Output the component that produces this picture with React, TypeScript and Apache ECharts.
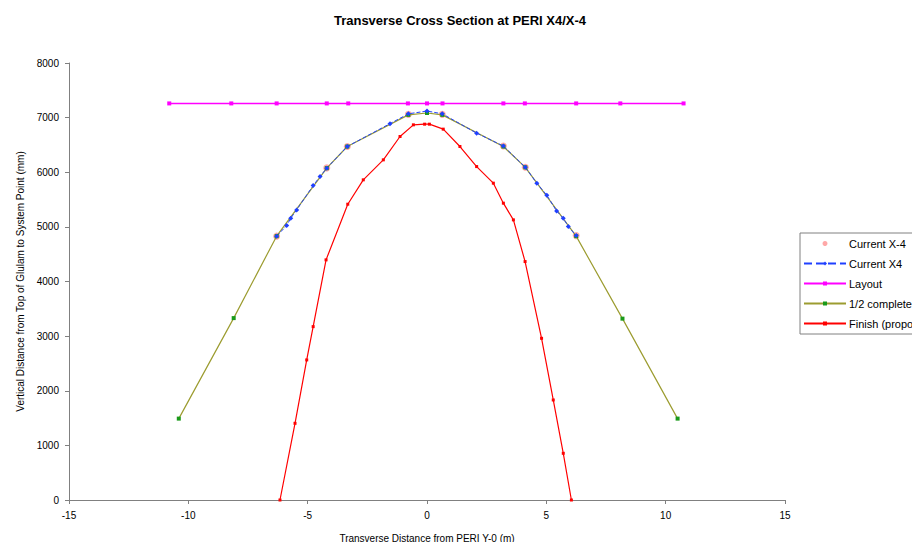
import React, { useEffect, useRef } from "react";
import * as echarts from "echarts";

const titleText = "Transverse Cross Section at PERI X4/X-4";
const xName = "Transverse Distance from PERI Y-0 (m)";
const yName = "Vertical Distance from Top of Glulam to System Point (mm)";

const currentXm4: [number, number][] = [
  [-6.3, 4830], [-4.2, 6080], [-3.34, 6471], [-0.78, 7060],
  [0.64, 7060], [3.2, 6480], [4.12, 6090], [6.25, 4840],
];

const currentX4: [number, number][] = [
  [-6.3, 4830], [-5.88, 5024], [-5.71, 5159], [-5.46, 5311], [-4.77, 5757],
  [-4.48, 5922], [-4.2, 6075], [-3.34, 6471], [-1.55, 6890], [-0.78, 7070],
  [0, 7120], [0.64, 7070], [2.08, 6716], [3.2, 6480], [4.12, 6090],
  [4.6, 5800], [5.02, 5580], [5.43, 5290], [5.71, 5159], [5.92, 5006], [6.25, 4840],
];

const layout: [number, number][] = [
  [-10.8, 7260], [-8.2, 7260], [-6.3, 7260], [-4.2, 7260], [-3.3, 7260],
  [-0.8, 7260], [0, 7260], [0.65, 7260], [3.2, 7260], [4.1, 7260],
  [6.25, 7260], [8.1, 7260], [10.75, 7260],
];

const halfComplete: [number, number][] = [
  [-10.4, 1490], [-8.1, 3330], [-6.3, 4830], [-4.2, 6075], [-3.34, 6471],
  [-0.78, 7050], [0, 7085], [0.64, 7050], [3.2, 6471], [4.12, 6090],
  [6.25, 4830], [8.19, 3320], [10.5, 1490],
];

const finish: [number, number][] = [
  [-6.16, 0], [-5.53, 1404], [-5.04, 2564], [-4.77, 3174], [-4.23, 4396],
  [-3.32, 5415], [-2.67, 5861], [-1.83, 6227], [-1.13, 6654], [-0.57, 6868],
  [-0.1, 6880], [0.1, 6880], [0.68, 6789], [1.38, 6471], [2.08, 6104],
  [2.78, 5800], [3.2, 5434], [3.62, 5128], [4.11, 4365], [4.8, 2960],
  [5.29, 1831], [5.71, 855], [6.05, 0],
];

const FONT = "Liberation Sans, Arial, sans-serif";

export default function App() {
  const ref = useRef<HTMLDivElement>(null);
  useEffect(() => {
    if (!ref.current) return;
    const chart = echarts.init(ref.current, null, { renderer: "svg" });
    const axisLine = { show: true, onZero: false, lineStyle: { color: "#808080", width: 1 } };
    const axisLabel = {
      fontFamily: FONT,
      fontSize: 10,
      color: "#000",
      margin: 10,
      formatter: (v: number) => String(v),
    };
    chart.setOption({
      animation: false,
      backgroundColor: "#ffffff",
      title: {
        text: titleText,
        left: "center",
        top: 9,
        textStyle: { fontFamily: FONT, fontSize: 13, fontWeight: "bold", color: "#000" },
      },
      grid: { left: 69, right: 135, top: 63, bottom: 50, containLabel: false },
      legend: {
        orient: "vertical",
        left: 800,
        top: 233,
        itemWidth: 42,
        itemHeight: 5,
        itemGap: 9,
        padding: [5, 4, 5, 3],
        borderColor: "#808080",
        borderWidth: 1,
        backgroundColor: "#fff",
        textStyle: { fontFamily: FONT, fontSize: 11, color: "#000", padding: [0, 0, 0, -2] },
        data: ["Current X-4", "Current X4", "Layout", "1/2 complete", "Finish (proposed)"],
      },
      xAxis: {
        type: "value",
        min: -15,
        max: 15,
        interval: 5,
        name: xName,
        nameLocation: "middle",
        nameGap: 33,
        nameTextStyle: { fontFamily: FONT, fontSize: 10, color: "#000" },
        axisLine,
        axisTick: { show: true, length: 4, lineStyle: { color: "#808080" } },
        axisLabel,
        splitLine: { show: false },
      },
      yAxis: {
        type: "value",
        min: 0,
        max: 8000,
        interval: 1000,
        name: yName,
        nameLocation: "middle",
        nameGap: 43,
        nameRotate: 90,
        nameTextStyle: { fontFamily: FONT, fontSize: 10, color: "#000" },
        axisLine,
        axisTick: { show: true, length: 4, lineStyle: { color: "#808080" } },
        axisLabel,
        splitLine: { show: false },
      },
      series: [
        {
          name: "Layout",
          type: "line",
          data: layout,
          symbol: "rect",
          symbolSize: 4,
          lineStyle: { color: "#ff00ff", width: 1.5 },
          itemStyle: { color: "#ff00ff" },
        },
        {
          name: "1/2 complete",
          type: "line",
          data: halfComplete,
          symbol: "rect",
          symbolSize: 4,
          lineStyle: { color: "#9c9c30", width: 1.2 },
          itemStyle: { color: "#1a9a1a" },
        },
        {
          name: "Current X4",
          type: "line",
          data: currentX4,
          symbol: "diamond",
          symbolSize: 5,
          lineStyle: { color: "#2040ff", width: 1, type: "dashed" },
          itemStyle: { color: "#2040ff" },
        },
        {
          name: "Current X-4",
          type: "scatter",
          data: currentXm4,
          symbol: "circle",
          symbolSize: 7,
          itemStyle: { color: "rgba(255,110,110,0.75)" },
        },
        {
          name: "Finish (proposed)",
          type: "line",
          data: finish,
          symbol: "rect",
          symbolSize: 3,
          lineStyle: { color: "#ff0000", width: 1.2 },
          itemStyle: { color: "#ff0000" },
        },
      ],
    });
    return () => chart.dispose();
  }, []);
  return <div ref={ref} style={{ width: 920, height: 550, margin: -8 }} />;
}
